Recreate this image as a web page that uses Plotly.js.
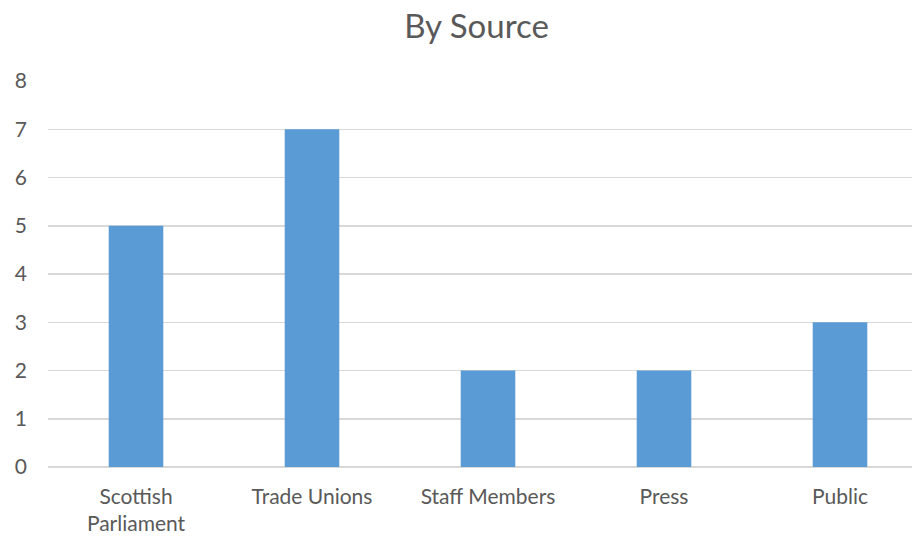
<!DOCTYPE html>
<html><head><meta charset="utf-8">
<script src="https://cdn.plot.ly/plotly-3.0.1.min.js"></script>
<style>html,body{margin:0;padding:0;background:#fff}#chart{width:912px;height:539px}</style>
</head><body><div id="chart"></div>
<script>
const categories = ["Scottish<br>Parliament", "Trade Unions", "Staff Members", "Press", "Public"];
const counts = [5, 7, 2, 2, 3];
const yTicks = [0, 1, 2, 3, 4, 5, 6, 7, 8];

const font = "Lato, 'Open Sans', sans-serif";
const trace = {
  type: "bar",
  x: categories,
  y: counts,
  marker: {color: "#5B9BD5"},
  hoverinfo: "x+y"
};
const layout = {
  width: 912, height: 539,
  margin: {l: 48, r: 0, t: 81, b: 72},
  paper_bgcolor: "#fff", plot_bgcolor: "#fff",
  title: {text: "By Source", x: 476.5/912, xref: "container", xanchor: "center",
          y: 1 - 26/539, yref: "container", yanchor: "middle",
          font: {family: font, size: 33, color: "#595959"}},
  bargap: 0.69,
  showlegend: false,
  xaxis: {
    type: "category",
    range: [-0.5, (912 - 48) / 176 - 0.5],
    showgrid: false, zeroline: false,
    showline: false, ticks: "",
    tickfont: {family: font, size: 21, color: "#595959"},
    ticklabelstandoff: 15
  },
  yaxis: {
    range: [0, 8],
    tickvals: yTicks,
    showgrid: true, gridcolor: "#D9D9D9", gridwidth: 1.5,
    zeroline: true, zerolinecolor: "#D9D9D9", zerolinewidth: 1.5,
    showline: false, ticks: "",
    tickfont: {family: font, size: 21, color: "#595959"},
    ticklabelstandoff: 20
  }
};
Plotly.newPlot("chart", [trace], layout, {displayModeBar: false, staticPlot: true});
</script></body></html>
